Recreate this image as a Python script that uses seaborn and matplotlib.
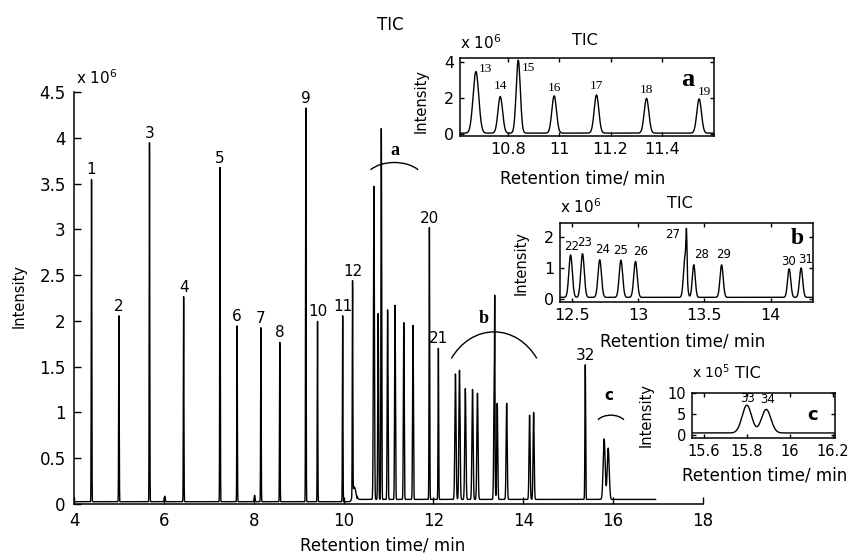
import numpy as np
import pandas as pd
import seaborn as sns
import matplotlib.pyplot as plt
from matplotlib.patches import Arc
from matplotlib.ticker import FuncFormatter

# peaks: retention time (min), height (x10^6), width sigma (min)
peak_no = [str(i) for i in range(1, 35)]
peak_rt = [4.39, 5.00, 5.68, 6.44, 7.25, 7.63, 8.16, 8.58, 9.16, 9.42, 9.98, 10.20,
           10.675, 10.77, 10.84, 10.98, 11.145, 11.34, 11.545, 11.91, 12.11,
           12.49, 12.58, 12.71, 12.87, 12.98, 13.365, 13.42, 13.63, 14.14, 14.23,
           15.38, 15.80, 15.89]
peak_height = [3.52, 2.03, 3.92, 2.24, 3.65, 1.92, 1.90, 1.74, 4.30, 1.97, 2.03, 2.33,
               3.42, 2.03, 4.05, 2.07, 2.12, 1.93, 1.90, 2.97, 1.65,
               1.37, 1.41, 1.21, 1.20, 1.16, 1.25, 1.05, 1.05, 0.92, 0.95,
               1.47, 0.66, 0.56]
peak_sigma = [0.006] * 12 + [0.011, 0.009, 0.008, 0.009, 0.009, 0.009, 0.009, 0.007, 0.007,
                             0.013, 0.013, 0.013, 0.013, 0.013, 0.004, 0.011, 0.012, 0.012, 0.012,
                             0.008, 0.022, 0.022]

# small unlabelled bumps and the broad base under peak 27
minor_rt = [6.02, 8.02, 10.24, 13.355]
minor_height = [0.06, 0.07, 0.16, 1.35]
minor_sigma = [0.01, 0.01, 0.035, 0.012]

# baseline level before / after the rise near 10.3 min
base_low, base_high, base_step = 0.025, 0.05, 10.3
run_start, run_end = 4.0, 16.95

# labels shown on the full chromatogram, the rest go in the zoomed panels
main_labels = [str(i) for i in list(range(1, 13)) + [20, 21, 32]]

t = np.arange(run_start, run_end, 0.001)
signal = np.where(t < base_step, base_low, base_high)
for rt, h, s in zip(peak_rt + minor_rt, peak_height + minor_height, peak_sigma + minor_sigma):
    signal = signal + h * np.exp(-0.5 * ((t - rt) / s) ** 2)
tic = pd.DataFrame({"rt": t, "intensity": signal})


def top_of(rt):
    win = tic[(tic.rt > rt - 0.012) & (tic.rt < rt + 0.012)]
    return win.intensity.max()


sns.set_style("ticks")
plt.rcParams["font.family"] = ["DejaVu Sans"]
plt.rcParams["xtick.direction"] = "in"
plt.rcParams["ytick.direction"] = "in"
for k in ["text.color", "axes.labelcolor", "xtick.color", "ytick.color", "axes.edgecolor"]:
    plt.rcParams[k] = "black"

W, H = 848, 555
fig = plt.figure(figsize=(W / 100, H / 100), dpi=100)


def box(l, t_, r, b):
    return [l / W, 1 - b / H, (r - l) / W, (b - t_) / H]


def ftext(x, y, s, **kw):
    fig.text(x / W, 1 - y / H, s, **kw)


fmt = FuncFormatter(lambda v, p: "%g" % v)

# ---- main chromatogram
ax = fig.add_axes(box(74, 92, 703, 504))
sns.lineplot(data=tic, x="rt", y="intensity", ax=ax, color="black", linewidth=1.0,
             estimator=None, sort=False)
ax.set_xlim(4, 18)
ax.set_ylim(0, 4.5)
ax.set_xticks(range(4, 19, 2))
ax.set_yticks(np.arange(0, 4.51, 0.5))
ax.yaxis.set_major_formatter(fmt)
ax.tick_params(labelsize=12, length=5, width=1, pad=6)
ax.set_xlabel("")
ax.set_ylabel("")
sns.despine(ax=ax)
for sp in ax.spines.values():
    sp.set_linewidth(1.1)

for lab, rt in zip(peak_no, peak_rt):
    if lab in main_labels:
        ax.annotate(lab, (rt, top_of(rt)), xytext=(0, 2), textcoords="offset pixels",
                    ha="center", va="bottom", fontsize=11)

# arcs over the zoomed groups: centre, half width, top, end height
arc_cx = [11.13, 13.35, 15.95]
arc_half = [0.53, 0.95, 0.29]
arc_top = [3.73, 1.88, 0.97]
arc_end = [3.65, 1.59, 0.92]
phi = np.radians(35)
for cx, hw, yt, ye in zip(arc_cx, arc_half, arc_top, arc_end):
    a = hw / np.cos(phi)
    b = (yt - ye) / (1 - np.sin(phi))
    # Arc stretches the angles by width/height, so pass the true angle
    th = np.degrees(np.arctan(np.tan(phi) * b / a))
    ax.add_patch(Arc((cx, yt - b), 2 * a, 2 * b, theta1=th, theta2=180 - th,
                     color="black", lw=1))
ax.text(11.15, 3.86, "a", ha="center", va="center", fontsize=13, fontweight="bold",
        family="Liberation Serif")
ax.text(13.11, 2.03, "b", ha="center", va="center", fontsize=13, fontweight="bold",
        family="Liberation Serif")
ax.text(15.91, 1.19, "c", ha="center", va="center", fontsize=11, fontweight="bold")

ftext(19, 296, "Intensity", rotation=90, ha="center", va="center", fontsize=10.5)
ftext(383, 550, "Retention time/ min", ha="center", va="baseline", fontsize=12)
ftext(390, 30, "TIC", ha="center", va="baseline", fontsize=12)
ftext(76, 84, r"x 10$^6$", ha="left", va="baseline", fontsize=11)


def inset(rect, xlim, ylim, xticks, yticks, scale, ylab_xy, xlab_xy, mult_xy, mult, tic_xy,
          size=11.5, msize=11):
    ia = fig.add_axes(box(*rect))
    part = tic[(tic.rt >= xlim[0]) & (tic.rt <= xlim[1])]
    sns.lineplot(x=part.rt, y=part.intensity * scale, ax=ia, color="black", linewidth=1.0,
                 estimator=None, sort=False)
    ia.set_xlim(*xlim)
    ia.set_ylim(*ylim)
    ia.set_xticks(xticks)
    ia.set_yticks(yticks)
    ia.xaxis.set_major_formatter(fmt)
    ia.yaxis.set_major_formatter(fmt)
    ia.tick_params(labelsize=size, length=3, width=1, pad=4, top=True, right=True)
    ia.set_xlabel("")
    ia.set_ylabel("")
    for sp in ia.spines.values():
        sp.set_linewidth(1.1)
    ftext(*ylab_xy, "Intensity", rotation=90, ha="center", va="center", fontsize=10.5)
    ftext(*xlab_xy, "Retention time/ min", ha="center", va="baseline", fontsize=12)
    ftext(*mult_xy, mult, ha="left", va="baseline", fontsize=msize)
    ftext(*tic_xy, "TIC", ha="center", va="baseline", fontsize=11.5)
    return ia


ia = inset((460, 58, 714, 136), (10.613, 11.603), (-0.11, 4.22), [10.8, 11, 11.2, 11.4],
           [0, 2, 4], 1, (421, 101), (583, 184), (460, 49), r"x 10$^6$", (585, 45))
ib = inset((560, 223, 813, 302), (12.41, 14.32), (-0.1, 2.45), [12.5, 13, 13.5, 14],
           [0, 1, 2], 1, (521, 263), (683, 347), (560, 213), r"x 10$^6$", (680, 208))
ic = inset((692, 393, 835, 438), (15.545, 16.21), (-0.7, 10), [15.6, 15.8, 16, 16.2],
           [0, 5, 10], 10, (646, 415), (765, 480), (692, 378), r"x 10$^5$", (748, 378),
           size=10.5, msize=10)

# label offsets (pixels) inside the zoomed panels
a_off = {"13": (9, 3), "14": (0, 11), "15": (10, -8), "16": (0, 8), "17": (0, 9),
         "18": (0, 8), "19": (5, 7)}
b_off = {"22": (1, 8), "23": (2, 11), "24": (3, 10), "25": (0, 10), "26": (5, 10),
         "27": (-14, -6), "28": (8, 10), "29": (2, 10), "30": (-1, 7), "31": (5, 8)}
c_off = {"33": (1, 7), "34": (1, 10)}
for lab, rt in zip(peak_no, peak_rt):
    if lab in a_off:
        ia.annotate(lab, (rt, top_of(rt)), xytext=a_off[lab], textcoords="offset pixels",
                    ha="center", va="center", fontsize=9.5, family="Liberation Serif")
    if lab in b_off:
        ib.annotate(lab, (rt, top_of(rt)), xytext=b_off[lab], textcoords="offset pixels",
                    ha="center", va="center", fontsize=8.5)
    if lab in c_off:
        ic.annotate(lab, (rt, top_of(rt) * 10), xytext=c_off[lab], textcoords="offset pixels",
                    ha="center", va="center", fontsize=8.5)

ftext(688, 80, "a", ha="center", va="center", fontsize=19, fontweight="bold",
      family="Liberation Serif")
ftext(797, 239, "b", ha="center", va="center", fontsize=17, fontweight="bold",
      family="Liberation Serif")
ftext(813, 415, "c", ha="center", va="center", fontsize=13, fontweight="bold")

fig.savefig("out.png", dpi=100)
